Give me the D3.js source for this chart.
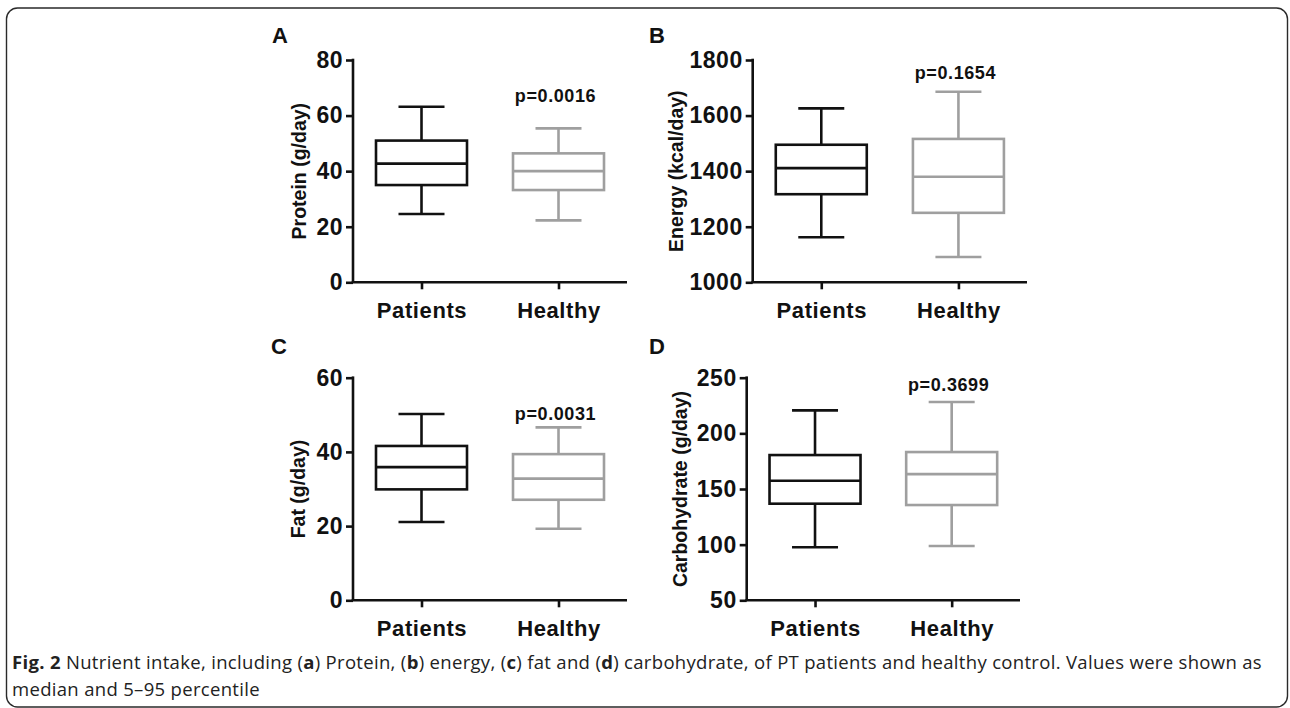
<!DOCTYPE html>
<html>
<head>
<meta charset="utf-8">
<script src="https://cdn.jsdelivr.net/npm/d3@7"></script>
<style>
  html, body { margin: 0; padding: 0; background: #fff; }
  svg { display: block; }
</style>
</head>
<body>
<svg id="chart" width="1290" height="708"></svg>
<script>
// ---- Data ----
const categories = ["Patients", "Healthy"];
const panelLetters = ["A", "B", "C", "D"];
const yTitles = ["Protein (g/day)", "Energy (kcal/day)", "Fat (g/day)", "Carbohydrate (g/day)"];
const yDomains = [[0, 80], [1000, 1800], [0, 60], [50, 250]];
const yTicks = [[0, 20, 40, 60, 80], [1000, 1200, 1400, 1600, 1800], [0, 20, 40, 60], [50, 100, 150, 200, 250]];
const pLabels = ["p=0.0016", "p=0.1654", "p=0.0031", "p=0.3699"];
// [p5, q1, median, q3, p95] per category
const proteinStats = [[24.6, 35.0, 42.7, 51.0, 63.2], [22.3, 33.2, 40.0, 46.4, 55.4]];
const energyStats = [[1162, 1317, 1411, 1495, 1626], [1091, 1250, 1380, 1516, 1686]];
const fatStats = [[21.1, 29.9, 35.9, 41.6, 50.2], [19.3, 27.1, 32.8, 39.4, 46.6]];
const carbStats = [[97.6, 136.8, 157.4, 180.5, 220.6], [98.8, 135.6, 163.4, 183.2, 228.1]];
const panelStats = [proteinStats, energyStats, fatStats, carbStats];

// ---- Layout ----
const layout = [
  { x0: 353, x1: 627, yTop: 60, yBot: 282.3, letterX: 272, letterY: 43, titleX: 306, pY: 101.5 },
  { x0: 752.7, x1: 1027, yTop: 60, yBot: 282.3, letterX: 649, letterY: 43, titleX: 683, pY: 79 },
  { x0: 353, x1: 627, yTop: 377.7, yBot: 600.3, letterX: 271, letterY: 354, titleX: 305, pY: 420 },
  { x0: 746.7, x1: 1020, yTop: 377.7, yBot: 600.3, letterX: 649, letterY: 354, titleX: 687, pY: 391 }
];
const colors = ["#111111", "#9f9f9f"];
const boxW = 91, capW = 46, sw = 2.6;
const boldFont = "'Liberation Sans', Arial, Helvetica, sans-serif";

const svg = d3.select("#chart");

// frame
svg.append("rect")
  .attr("x", 6.5).attr("y", 8).attr("width", 1281).attr("height", 699)
  .attr("rx", 11).attr("ry", 11)
  .attr("fill", "none").attr("stroke", "#2a2a2a").attr("stroke-width", 1.4);

layout.forEach((L, i) => {
  const g = svg.append("g");
  const y = d3.scaleLinear().domain(yDomains[i]).range([L.yBot, L.yTop]);
  const x = d3.scalePoint().domain(categories).range([L.x0, L.x1]).padding(0.5);

  // y axis
  const ya = g.append("g").attr("transform", `translate(${L.x0},0)`)
    .call(d3.axisLeft(y).tickValues(yTicks[i]).tickFormat(d3.format("d"))
      .tickSize(7).tickPadding(3).tickSizeOuter(0));
  ya.select(".domain").attr("stroke", "#111").attr("stroke-width", sw);
  ya.selectAll(".tick line").attr("stroke", "#111").attr("stroke-width", sw);
  ya.selectAll(".tick text")
    .attr("font-family", boldFont).attr("font-weight", "bold")
    .attr("font-size", 23).attr("letter-spacing", "0.5px").attr("fill", "#111");
  ya.select(".domain").attr("d", `M0,${L.yBot}V${L.yTop - sw/2}`);

  // x axis
  const xa = g.append("g").attr("transform", `translate(0,${L.yBot})`)
    .call(d3.axisBottom(x).tickSize(7).tickPadding(8).tickSizeOuter(0));
  xa.select(".domain").attr("stroke", "#111").attr("stroke-width", sw)
    .attr("d", `M${L.x0 - sw/2},0H${L.x1}`);
  xa.selectAll(".tick line").attr("stroke", "#111").attr("stroke-width", sw);
  xa.selectAll(".tick text")
    .attr("font-family", boldFont).attr("font-weight", "bold")
    .attr("font-size", 22).attr("letter-spacing", "0.6px").attr("fill", "#111")
    .attr("dy", "0.95em");

  // y title
  g.append("text")
    .attr("transform", `translate(${L.titleX},${(L.yTop + L.yBot) / 2}) rotate(-90)`)
    .attr("text-anchor", "middle")
    .attr("font-family", boldFont).attr("font-weight", "bold")
    .attr("font-size", 19.5).attr("fill", "#111")
    .text(yTitles[i]);

  // panel letter
  g.append("text")
    .attr("x", L.letterX).attr("y", L.letterY)
    .attr("font-family", boldFont).attr("font-weight", "bold")
    .attr("font-size", 22).attr("letter-spacing", "1px").attr("fill", "#111")
    .text(panelLetters[i]);

  // boxes
  panelStats[i].forEach((s, j) => {
    const cx = x(categories[j]);
    const c = colors[j];
    const bg = g.append("g").attr("stroke", c).attr("stroke-width", sw).attr("fill", "none");
    bg.append("line").attr("x1", cx).attr("x2", cx).attr("y1", y(s[3])).attr("y2", y(s[4]));
    bg.append("line").attr("x1", cx).attr("x2", cx).attr("y1", y(s[1])).attr("y2", y(s[0]));
    bg.append("line").attr("x1", cx - capW / 2).attr("x2", cx + capW / 2).attr("y1", y(s[4])).attr("y2", y(s[4]));
    bg.append("line").attr("x1", cx - capW / 2).attr("x2", cx + capW / 2).attr("y1", y(s[0])).attr("y2", y(s[0]));
    bg.append("rect").attr("x", cx - boxW / 2).attr("y", y(s[3]))
      .attr("width", boxW).attr("height", y(s[1]) - y(s[3])).attr("fill", "#fff");
    bg.append("line").attr("x1", cx - boxW / 2).attr("x2", cx + boxW / 2).attr("y1", y(s[2])).attr("y2", y(s[2]));
  });

  // p-value
  g.append("text")
    .attr("x", x(categories[1]) - 3).attr("y", L.pY)
    .attr("text-anchor", "middle")
    .attr("font-family", boldFont).attr("font-weight", "bold")
    .attr("font-size", 18).attr("letter-spacing", "0.6px").attr("fill", "#111")
    .text(pLabels[i]);
});

// caption
const capFont = "'Open Sans', 'Noto Sans', sans-serif";
const capSize = 18.5;
const captionLine1 = [
  ["Fig. 2", true], [" Nutrient intake, including (", false], ["a", true], [") Protein, (", false],
  ["b", true], [") energy, (", false], ["c", true], [") fat and (", false], ["d", true],
  [") carbohydrate, of PT patients and healthy control. Values were shown as", false]
];
const captionLine2 = "median and 5\u201395 percentile";
const t1 = svg.append("text").attr("x", 12).attr("y", 669)
  .attr("font-family", capFont).attr("font-size", capSize).attr("fill", "#222");
captionLine1.forEach(([s, b]) => {
  t1.append("tspan").attr("font-weight", b ? "bold" : "normal").text(s);
});
const t2 = svg.append("text").attr("x", 12).attr("y", 696)
  .attr("font-family", capFont).attr("font-size", capSize).attr("fill", "#222")
  .text(captionLine2);
// fit first line to the reference width using letter spacing
const targetW = 1250;
const natW = t1.node().getComputedTextLength();
const nChars = captionLine1.map(d => d[0]).join("").length;
const ls = (targetW - natW) / nChars;
t1.attr("letter-spacing", ls + "px");
t2.attr("letter-spacing", ls + "px");
</script>
</body>
</html>
